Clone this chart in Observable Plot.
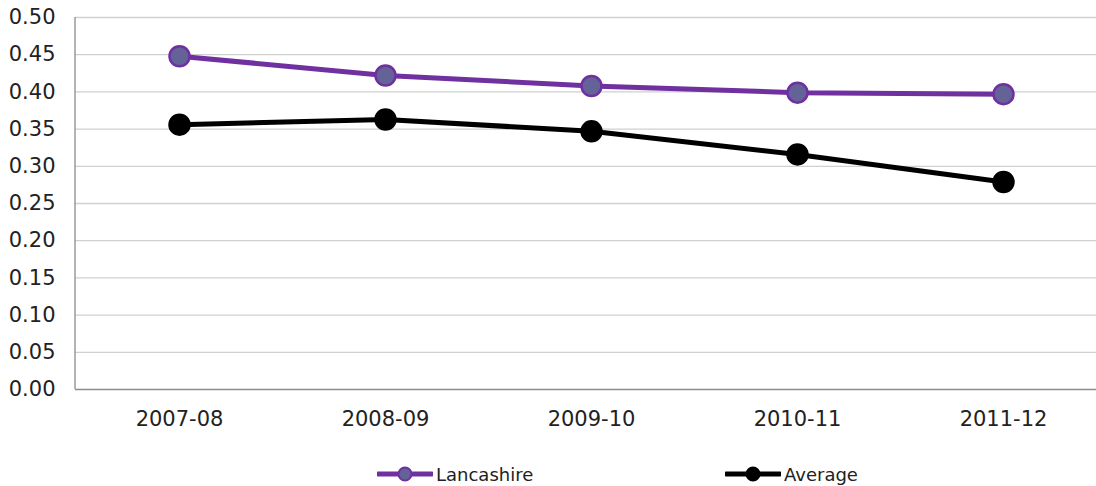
<!DOCTYPE html>
<html>
<head>
<meta charset="utf-8">
<script src="https://cdn.jsdelivr.net/npm/d3@7"></script>
<script src="https://cdn.jsdelivr.net/npm/@observablehq/plot@0.6"></script>
<style>
  html, body { margin: 0; padding: 0; background: #fff; width: 1096px; height: 486px; overflow: hidden; }
  #legend { position: relative; height: 27px; font-family: "DejaVu Sans", Verdana, sans-serif; font-size: 18px; color: #222; }
  .item { position: absolute; top: 0; height: 30px; display: flex; align-items: center; }
  .item svg { display: block; margin-right: 3px; }
</style>
</head>
<body>
<div id="chart"></div>
<div id="legend"></div>
<script>
const years = ["2007-08", "2008-09", "2009-10", "2010-11", "2011-12"];
const lancashire = [0.448, 0.422, 0.408, 0.399, 0.397];
const average = [0.356, 0.363, 0.347, 0.316, 0.279];
const seriesNames = ["Lancashire", "Average"];
const yTicks = [0, 0.05, 0.10, 0.15, 0.20, 0.25, 0.30, 0.35, 0.40, 0.45, 0.50];

const styles = {
  Lancashire: {stroke: "#7030a0", fill: "#636398", mstroke: "#7030a0"},
  Average: {stroke: "#000000", fill: "#000000", mstroke: "#000000"}
};

const data = [];
years.forEach((y, i) => {
  data.push({year: y, value: lancashire[i], series: "Lancashire"});
  data.push({year: y, value: average[i], series: "Average"});
});

const chart = Plot.plot({
  width: 1096,
  height: 459,
  marginTop: 17,
  marginBottom: 70,
  marginLeft: 75,
  marginRight: 0,
  style: {fontFamily: "DejaVu Sans, Verdana, sans-serif", fontSize: "21px", color: "#222", background: "#fff"},
  x: {type: "point", domain: years, range: [178, 1004], padding: 0, label: null},
  y: {domain: [0, 0.5], label: null},
  marks: [
    Plot.ruleY(yTicks.filter(d => d > 0), {stroke: "#d0d0d0", strokeWidth: 1.3, strokeOpacity: 1}),
    Plot.ruleY([0], {stroke: "#8c8c8c", strokeWidth: 1.3}),
    Plot.axisY({ticks: yTicks, tickFormat: d3.format(".2f"), tickSize: 0, tickPadding: 20, fontSize: 21}),
    Plot.axisX({tickSize: 0, tickPadding: 22, fontSize: 21}),
    ...seriesNames.map(s => Plot.line(data.filter(d => d.series === s), {
      x: "year", y: "value", stroke: styles[s].stroke, strokeWidth: 5
    })),
    ...seriesNames.map(s => Plot.dot(data.filter(d => d.series === s), {
      x: "year", y: "value", r: 10, fill: styles[s].fill, stroke: styles[s].mstroke, strokeWidth: 2.5, fillOpacity: 1
    }))
  ]
});
document.getElementById("chart").appendChild(chart);

// left axis line
d3.select(chart).append("line")
  .attr("x1", 75).attr("x2", 75).attr("y1", 17).attr("y2", 389)
  .attr("stroke", "#8c8c8c").attr("stroke-width", 1.3);

const legend = document.getElementById("legend");
const lefts = [377, 725];
seriesNames.forEach((s, i) => {
  const item = document.createElement("div");
  item.className = "item";
  item.style.left = lefts[i] + "px";
  const st = styles[s];
  item.innerHTML = `<svg width="56" height="30"><line x1="1" x2="55" y1="15" y2="15" stroke="${st.stroke}" stroke-width="5" stroke-linecap="round"/><circle cx="28" cy="15" r="6.5" fill="${st.fill}" stroke="${st.mstroke}" stroke-width="2"/></svg><span>${s}</span>`;
  legend.appendChild(item);
});
</script>
</body>
</html>
